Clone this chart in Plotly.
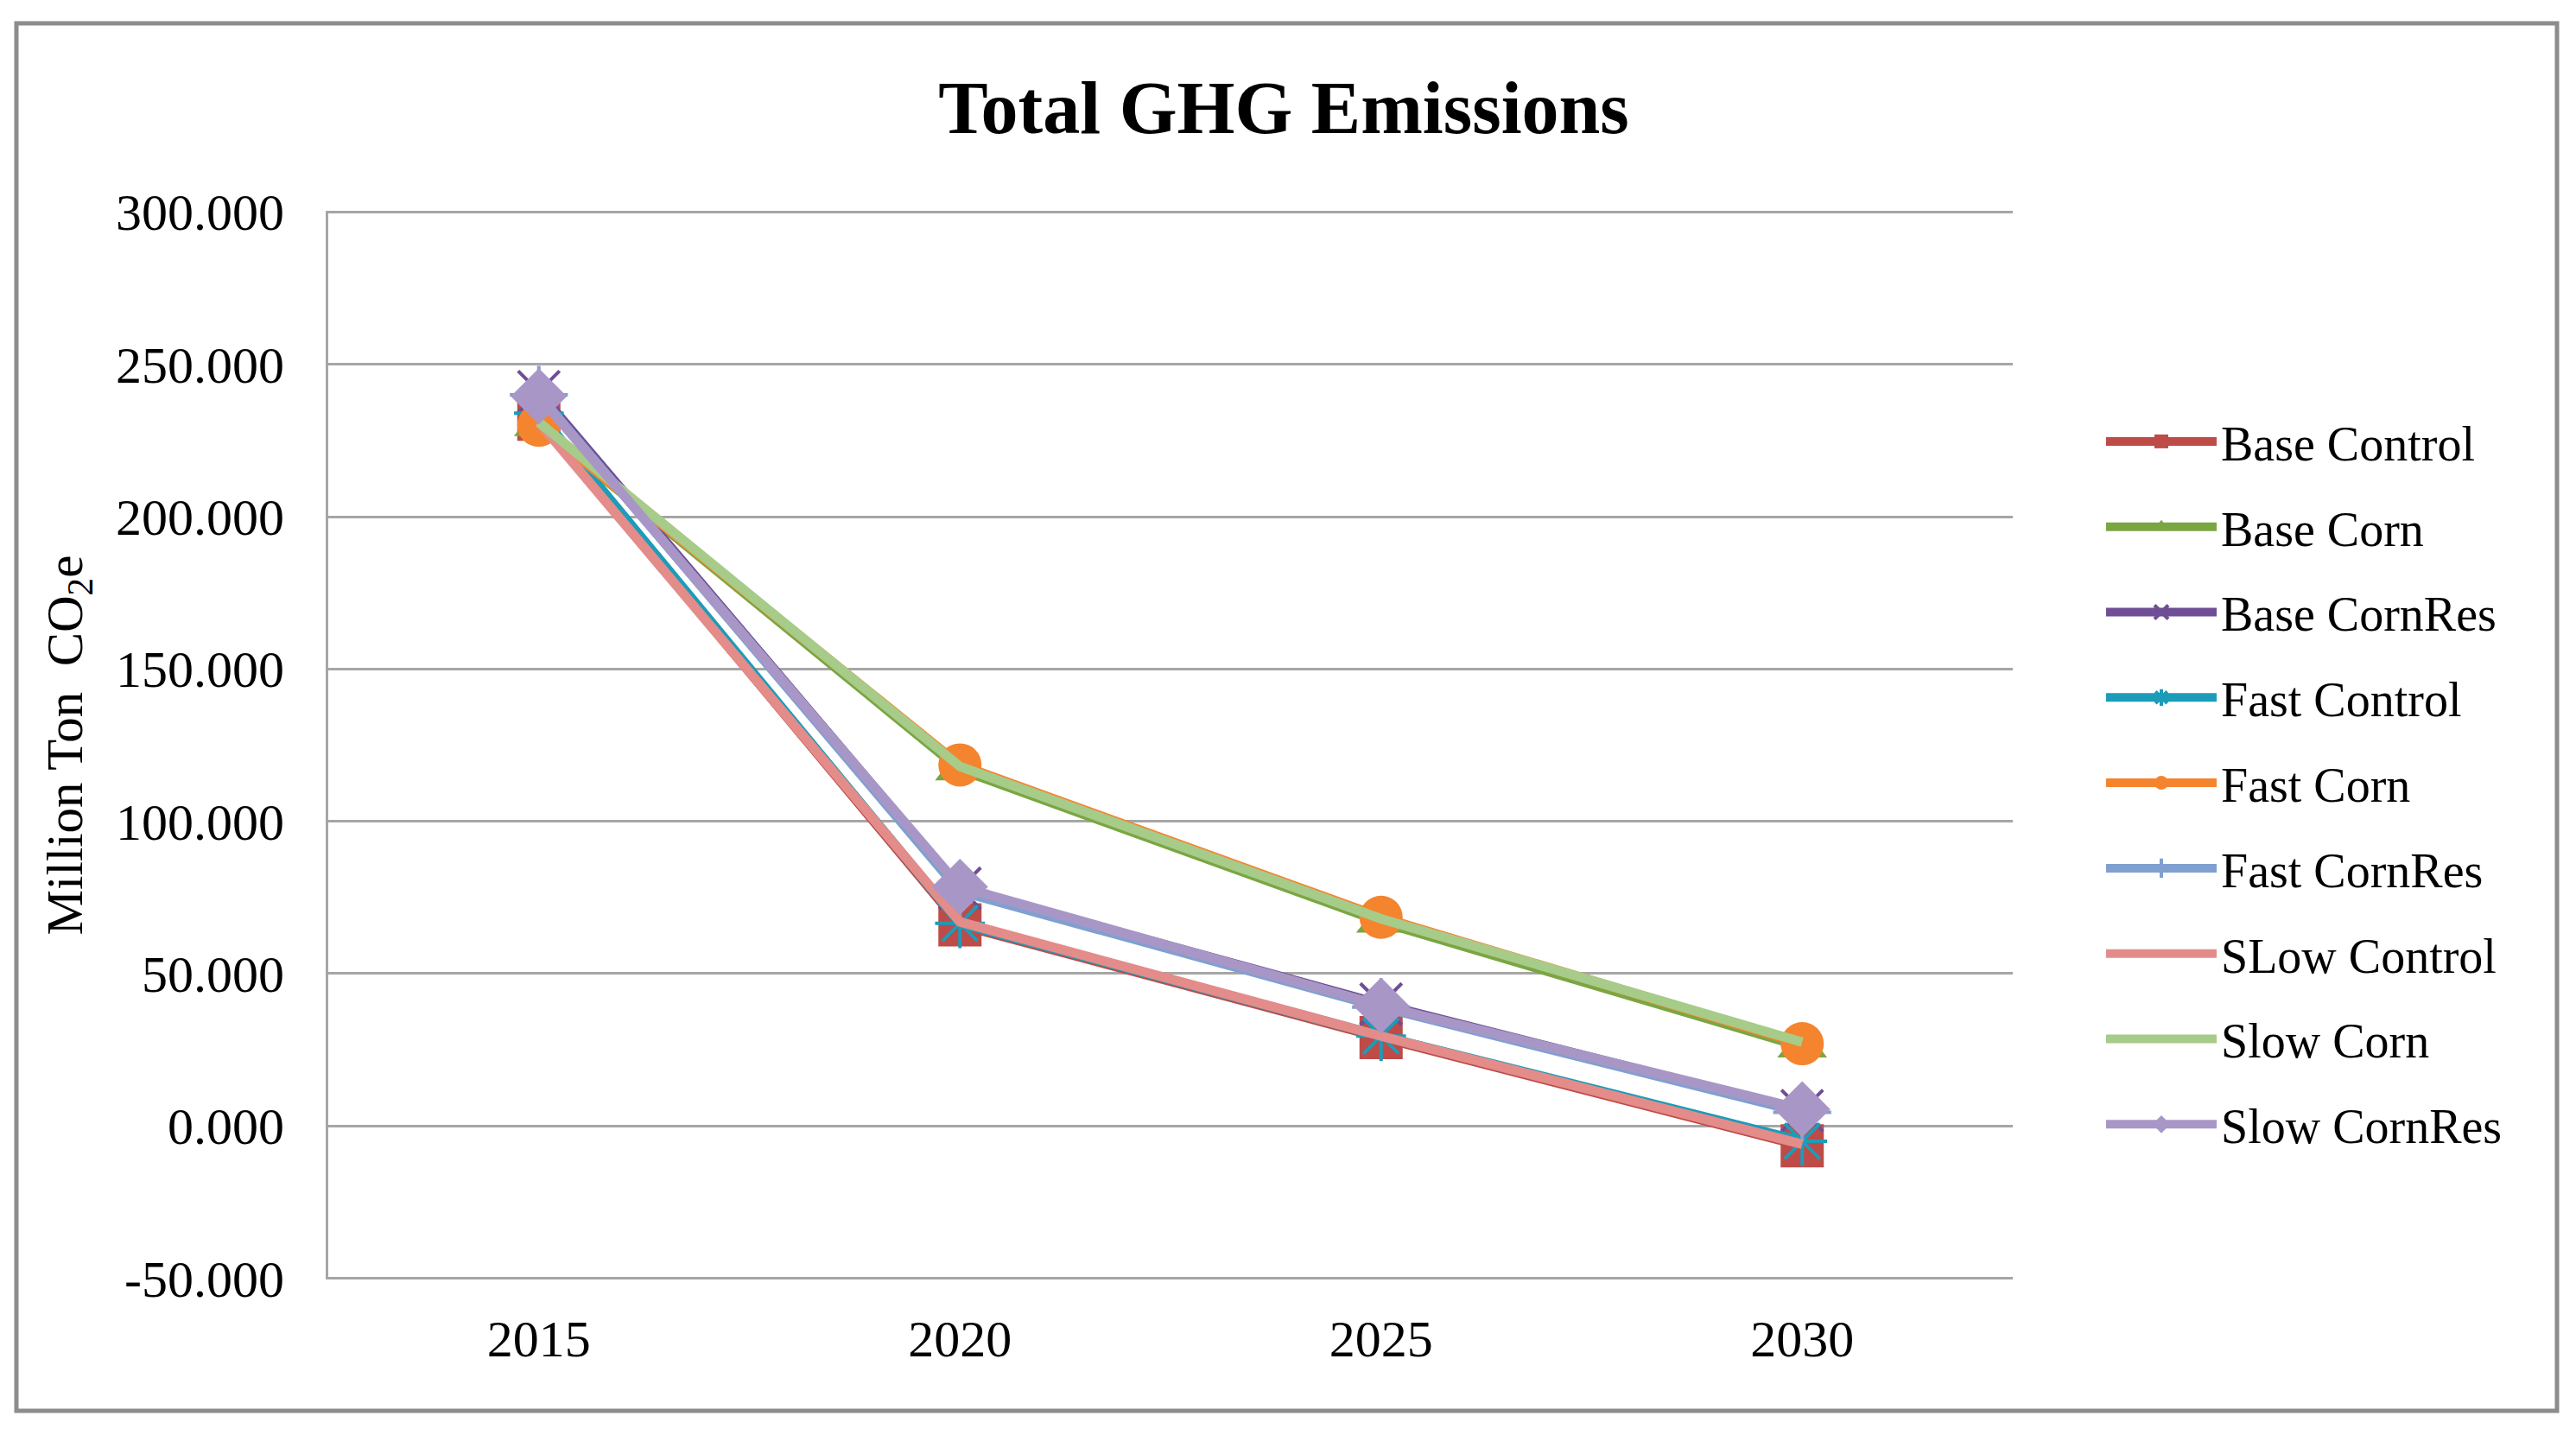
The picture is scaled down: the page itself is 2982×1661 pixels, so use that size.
import plotly.graph_objects as go

years = ["2015", "2020", "2025", "2030"]

base_control = [232.0, 66.0, 29.0, -6.5]
base_corn = [230.0, 117.0, 67.0, 26.0]
base_cornres = [241.0, 78.0, 40.0, 5.0]
fast_control = [234.0, 66.5, 29.5, -5.0]
fast_corn = [230.0, 118.5, 68.5, 27.0]
fast_cornres = [240.0, 77.0, 39.0, 4.5]
slow_control = [231.0, 67.0, 29.5, -6.0]
slow_corn = [231.0, 118.0, 68.0, 27.5]
slow_cornres = [239.5, 78.5, 39.5, 5.5]

y_ticks = [-50, 0, 50, 100, 150, 200, 250, 300]
y_tick_labels = ["-50.000", "0.000", "50.000", "100.000", "150.000", "200.000", "250.000", "300.000"]

# page body has an 8px margin, so the figure is drawn 8px in from the window edge
OFF = 8
W, H = 2982 - OFF, 1661 - OFF
PL, PR, PT, PB = 380, 2330, 244, 1481  # plot area in window pixels
L, R, T, B = PL - OFF, W - (PR - OFF), PT - OFF, H - (PB - OFF)
FONT = "Liberation Serif"

# name, values, color, marker symbol (None = line only)
series = [
    ("Base Control", base_control, "#BE4B48", "square"),
    ("Base Corn", base_corn, "#7AA642", "triangle-up"),
    ("Base CornRes", base_cornres, "#6F4E96", "x-thin"),
    ("Fast Control", fast_control, "#1C9CB8", "asterisk"),
    ("Fast Corn", fast_corn, "#F5842E", "circle"),
    ("Fast CornRes", fast_cornres, "#7FA0D0", "cross-thin"),
    ("SLow Control", slow_control, "#E38C8A", None),
    ("Slow Corn", slow_corn, "#A7CB89", None),
    ("Slow CornRes", slow_cornres, "#A897C6", "diamond"),
]

fig = go.Figure()
for i, (name, vals, color, sym) in enumerate(series):
    if sym is None:
        mode = "lines"
        marker = {}
    elif sym in ("x-thin", "asterisk", "cross-thin"):
        mode = "lines+markers"
        marker = dict(symbol=sym, size=48, line=dict(color=color, width=4), color=color)
    else:
        mode = "lines+markers"
        marker = dict(symbol=sym, size=50, color=color, line=dict(width=0))
    fig.add_trace(go.Scatter(
        x=years, y=vals, name=name, mode=mode,
        line=dict(color=color, width=11),
        marker=marker, legendgroup=f"g{i}",
    ))

fig.update_layout(
    width=W, height=H,
    margin=dict(l=L, r=R, t=T, b=B),
    paper_bgcolor="white", plot_bgcolor="white",
    font=dict(family=FONT, size=60, color="black"),
    title=dict(
        text="<b>Total GHG Emissions</b>",
        font=dict(family=FONT, size=86, color="black"),
        x=(1486 - OFF) / W, xref="container", xanchor="center",
        y=1 - (124 - OFF) / H, yref="container", yanchor="middle",
    ),
    showlegend=True,
    legend=dict(
        x=(2433 - PL) / (PR - PL), xanchor="left",
        y=(PB - 468) / (PB - PT), yanchor="top",
        font=dict(family=FONT, size=56, color="black"),
        itemwidth=128, tracegroupgap=23,
        bgcolor="rgba(0,0,0,0)",
    ),
    xaxis=dict(
        type="category", range=[-0.5, 3.5],
        showgrid=False, zeroline=False, showline=False,
        ticks="", ticklabelstandoff=28,
        tickfont=dict(family=FONT, size=60),
    ),
    yaxis=dict(
        range=[-50.4, 300.4], tickvals=y_ticks, ticktext=y_tick_labels,
        showgrid=True, gridcolor="#A6A6A6", gridwidth=3,
        zeroline=False, showline=True, linecolor="#A6A6A6", linewidth=3,
        ticks="", ticklabelstandoff=36,
        tickfont=dict(family=FONT, size=60),
        title=dict(text="Million Ton\u00a0 CO<sub>2</sub>e",
                   font=dict(family=FONT, size=59), standoff=20),
    ),
)

# outer chart border
pw, ph = PR - PL, PB - PT
fig.add_shape(
    type="rect", xref="paper", yref="paper",
    x0=(19 - PL) / pw, x1=(2960 - PL) / pw,
    y0=(PB - 1633) / ph, y1=(PB - 27) / ph,
    line=dict(color="#8C8C8C", width=5), layer="below",
)

fig.write_html("out.html")
